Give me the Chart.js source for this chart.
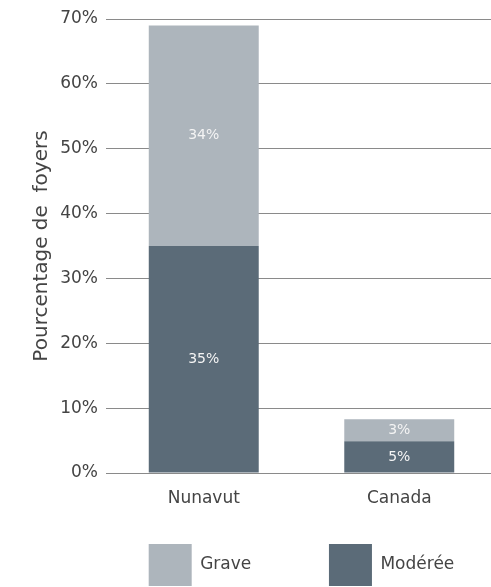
<!DOCTYPE html>
<html>
<head>
<meta charset="utf-8">
<script src="https://cdn.jsdelivr.net/npm/chart.js@4.4.1/dist/chart.umd.min.js"></script>
<style>
  html, body { margin: 0; padding: 0; background: #fff; overflow: hidden; }
</style>
</head>
<body>
<canvas id="myChart" width="497" height="587"></canvas>
<script>
var categories = ["Nunavut", "Canada"];
var moderee = [35, 4.9];
var grave = [34, 3.4];
var yTicks = [0, 10, 20, 30, 40, 50, 60, 70];

var lightGrey = "#adb5bc";
var darkGrey = "#5b6b78";
var fontName = "DejaVu Sans";

// writes the rounded value in the middle of each bar segment
var barLabels = {
    id: "barLabels",
    afterDatasetsDraw: function (chart) {
        var ctx = chart.ctx;
        ctx.save();
        ctx.fillStyle = "#f4f4f4";
        ctx.font = "14px '" + fontName + "'";
        ctx.textAlign = "center";
        ctx.textBaseline = "middle";
        chart.data.datasets.forEach(function (ds, i) {
            chart.getDatasetMeta(i).data.forEach(function (bar, j) {
                var y = (bar.y + bar.base) / 2;
                ctx.fillText(Math.round(ds.data[j]) + "%", bar.x, y);
            });
        });
        ctx.restore();
    }
};

new Chart("myChart", {
    type: "bar",
    data: {
        labels: categories,
        datasets: [{
            label: "Modérée",
            data: moderee,
            backgroundColor: darkGrey
        }, {
            label: "Grave",
            data: grave,
            backgroundColor: lightGrey
        }]
    },
    options: {
        responsive: false,
        animation: false,
        layout: { padding: { top: 19, right: 0, bottom: -9, left: 0 } },
        datasets: {
            bar: { categoryPercentage: 1, barPercentage: 0.5625 }
        },
        scales: {
            x: {
                stacked: true,
                grid: { display: false },
                border: { display: false },
                ticks: { color: "#444", font: { family: fontName, size: 17 }, padding: 7 },
                afterFit: function (s) { s.height = 69; }
            },
            y: {
                stacked: true,
                min: 0,
                max: 70,
                afterBuildTicks: function (s) {
                    s.ticks = yTicks.map(function (v) { return { value: v }; });
                },
                grid: { color: "#8a8a8a", lineWidth: 1, drawTicks: false },
                border: { display: false },
                ticks: {
                    color: "#444",
                    padding: 8,
                    font: { family: fontName, size: 17 },
                    callback: function (v) { return v + "%"; }
                },
                title: {
                    display: true,
                    text: "Pourcentage de  foyers",
                    color: "#444",
                    font: { family: fontName, size: 20 },
                    padding: { top: 30, bottom: 0 }
                },
                afterFit: function (s) { s.width = 106; }
            }
        },
        plugins: {
            legend: {
                position: "bottom",
                fullSize: false,
                labels: {
                    boxWidth: 43,
                    boxHeight: 42,
                    padding: 2,
                    color: "#444",
                    font: { family: fontName, size: 17 },
                    generateLabels: function (chart) {
                        return chart.data.datasets.map(function (ds, i) {
                            return {
                                text: ds.label === "Grave" ? "Grave              " : ds.label,
                                fillStyle: ds.backgroundColor,
                                strokeStyle: ds.backgroundColor,
                                fontColor: "#444",
                                lineWidth: 0,
                                datasetIndex: i
                            };
                        }).reverse();
                    }
                }
            },
            tooltip: { enabled: false }
        }
    },
    plugins: [barLabels]
});
</script>
</body>
</html>
